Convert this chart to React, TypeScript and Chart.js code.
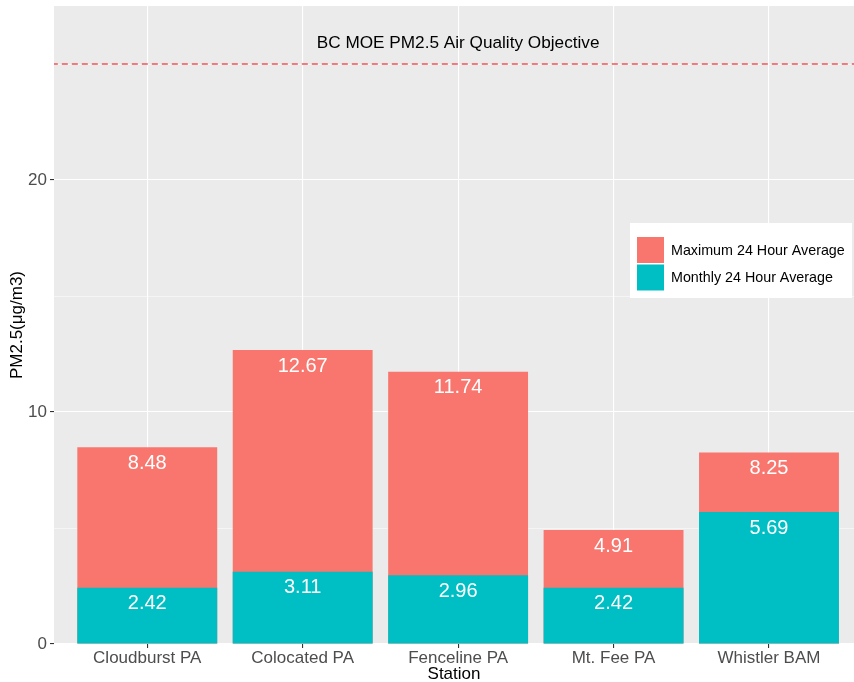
import React, { useEffect, useRef } from 'react';
import { Chart, registerables } from 'chart.js';

Chart.register(...registerables);

const stations = ['Cloudburst PA', 'Colocated PA', 'Fenceline PA', 'Mt. Fee PA', 'Whistler BAM'];
const maxAvg = [8.48, 12.67, 11.74, 4.91, 8.25];
const monthlyAvg = [2.42, 3.11, 2.96, 2.42, 5.69];
const seriesNames = ['Maximum 24 Hour Average', 'Monthly 24 Hour Average'];
const objectiveValue = 25;
const objectiveLabel = 'BC MOE PM2.5 Air Quality Objective';
const objectiveLabelY = 25.9;
const yTicks = [0, 5, 10, 15, 20, 25];
const yMajor = [0, 10, 20];

const RED = '#F8766D';
const TEAL = '#00BFC4';
const FONT = '"Liberation Sans", Arial, Helvetica, sans-serif';

export default function App() {
  const ref = useRef<HTMLCanvasElement | null>(null);

  useEffect(() => {
    document.body.style.margin = '0';
    const canvas = ref.current;
    if (!canvas) return;

    const panelBg = {
      id: 'panelBg',
      beforeDraw(chart: any) {
        const { ctx, chartArea: a } = chart;
        ctx.save();
        ctx.fillStyle = '#EBEBEB';
        ctx.fillRect(a.left, a.top, a.right - a.left, a.bottom - a.top);
        ctx.restore();
      },
    };

    const barLabels = {
      id: 'barLabels',
      afterDatasetsDraw(chart: any) {
        const { ctx } = chart;
        ctx.save();
        ctx.fillStyle = '#FFFFFF';
        ctx.font = `20px ${FONT}`;
        ctx.textAlign = 'center';
        ctx.textBaseline = 'middle';
        [0, 1].forEach((di) => {
          const meta = chart.getDatasetMeta(di);
          const vals = di === 0 ? maxAvg : monthlyAvg;
          meta.data.forEach((bar: any, i: number) => {
            ctx.fillText(vals[i].toFixed(2), bar.x, bar.y + 16);
          });
        });
        ctx.restore();
      },
    };

    const overlay = {
      id: 'overlay',
      afterDraw(chart: any) {
        const { ctx, scales } = chart;
        ctx.save();
        ctx.fillStyle = '#000000';
        ctx.font = `17.2px ${FONT}`;
        ctx.textAlign = 'center';
        ctx.textBaseline = 'middle';
        ctx.fillText(objectiveLabel, scales.x.getPixelForValue(3), scales.y.getPixelForValue(objectiveLabelY));
        const lx = 630, ly = 223;
        ctx.fillStyle = '#FFFFFF';
        ctx.fillRect(lx, ly, 222, 75);
        const colors = [RED, TEAL];
        ctx.font = `14.3px ${FONT}`;
        ctx.textAlign = 'left';
        seriesNames.forEach((name, i) => {
          ctx.fillStyle = colors[i];
          ctx.fillRect(lx + 7, ly + 14 + i * 27.5, 27, 26);
          ctx.fillStyle = '#000000';
          ctx.fillText(name, lx + 41, ly + 28 + i * 27.5);
        });
        ctx.restore();
      },
    };

    const chart = new Chart(canvas, {
      type: 'bar',
      data: {
        datasets: [
          {
            label: seriesNames[0],
            data: stations.map((_, i) => ({ x: i + 1, y: maxAvg[i] })),
            backgroundColor: RED,
            grouped: false,
            order: 2,
            barPercentage: 0.9,
            categoryPercentage: 1,
          } as any,
          {
            label: seriesNames[1],
            data: stations.map((_, i) => ({ x: i + 1, y: monthlyAvg[i] })),
            backgroundColor: TEAL,
            grouped: false,
            order: 1,
            barPercentage: 0.9,
            categoryPercentage: 1,
          } as any,
          {
            type: 'line',
            label: 'objective',
            data: [
              { x: 0, y: objectiveValue },
              { x: 6, y: objectiveValue },
            ],
            borderColor: '#F2545B',
            borderWidth: 1.5,
            borderDash: [6, 4],
            pointRadius: 0,
            order: 0,
          } as any,
        ],
      },
      options: {
        responsive: false,
        animation: false,
        layout: { padding: { top: 6, left: 0, right: 0, bottom: 0 } },
        plugins: {
          legend: { display: false },
          tooltip: { enabled: false },
        },
        scales: {
          x: {
            type: 'linear',
            min: 0.4,
            max: 5.547,
            offset: false,
            grid: {
              offset: false,
              color: '#FFFFFF',
              lineWidth: 1.1,
              tickColor: '#333333',
              tickLength: 4,
              drawTicks: true,
            },
            border: { display: false },
            afterBuildTicks: (axis: any) => {
              axis.ticks = stations.map((_, i) => ({ value: i + 1 }));
            },
            afterFit: (scale: any) => {
              scale.height = 38;
              scale.paddingLeft = 0;
              scale.paddingRight = 0;
            },
            ticks: {
              color: '#4D4D4D',
              font: { size: 17, family: FONT },
              padding: 0,
              maxRotation: 0,
              autoSkip: false,
              callback: (v: any) => stations[Math.round(Number(v)) - 1] ?? '',
            },
            title: {
              display: true,
              text: 'Station',
              color: '#000000',
              font: { size: 17, family: FONT, lineHeight: 1 },
              padding: { top: 0, bottom: -1 },
            },
          },
          y: {
            type: 'linear',
            min: 0,
            max: 27.5,
            grid: {
              color: '#FFFFFF',
              lineWidth: (ctx: any) => (yMajor.includes(ctx.tick?.value) ? 1.1 : 0.5),
              tickColor: (ctx: any) => (yMajor.includes(ctx.tick?.value) ? '#333333' : 'rgba(0,0,0,0)'),
              tickLength: 4,
            },
            border: { display: false },
            afterBuildTicks: (axis: any) => {
              axis.ticks = yTicks.map((v) => ({ value: v }));
            },
            afterFit: (scale: any) => {
              scale.width = 54;
              scale.paddingTop = 0;
              scale.paddingBottom = 0;
            },
            ticks: {
              color: '#4D4D4D',
              font: { size: 17, family: FONT },
              padding: 3,
              callback: (v: any) => (yMajor.includes(Number(v)) ? String(v) : ''),
            },
            title: {
              display: true,
              text: 'PM2.5(μg/m3)',
              color: '#000000',
              font: { size: 17, family: FONT, lineHeight: 1 },
              padding: { top: 9, bottom: 0 },
            },
          },
        },
      } as any,
      plugins: [panelBg, barLabels, overlay],
    });

    return () => {
      chart.destroy();
    };
  }, []);

  return (
    <div style={{ width: 854, height: 682 }}>
      <canvas ref={ref} width={854} height={682} style={{ display: 'block' }} />
    </div>
  );
}
